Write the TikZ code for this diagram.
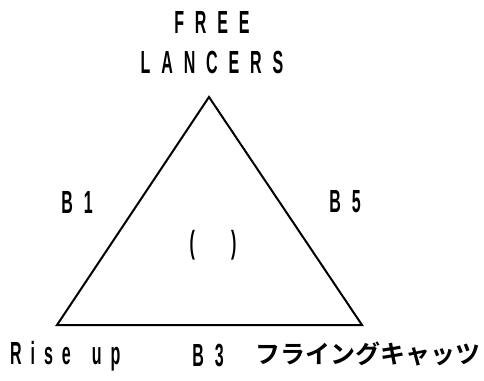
\documentclass[tikz,border=0pt]{standalone}
\usepackage{fontspec}
\setmainfont{Liberation Sans}
\newfontfamily\lbl[FakeStretch=0.5,LetterSpace=34]{Liberation Sans Bold}
\newfontfamily\lblb[FakeStretch=0.5,LetterSpace=28]{Liberation Sans Bold}
\newfontfamily\jpfont{Noto Sans CJK JP Bold}
\begin{document}
\begin{tikzpicture}[x=1pt,y=-1pt,
  lab/.style={inner sep=0pt,font=\fontsize{32}{32}\lbl},
  labb/.style={inner sep=0pt,font=\fontsize{32}{32}\lblb},
  edge/.style={line width=2pt,line join=miter}]
\useasboundingbox (0,0) rectangle (484,380);
\coordinate (A) at (209,97);
\coordinate (B) at (57,325);
\coordinate (C) at (362,325);
\draw[edge] (A) -- (B) -- (C) -- cycle;
\node[lab] (free) at (212,22) {FREE};
\node[lab] (lancers) at (212,62) {LANCERS};
\node[lab] (b1) at (77,202) {B1};
\node[lab] (b5) at (345,202) {B5};
\node[lab] (paren) at (213,245) {(\hspace{36pt})};
\node[labb,anchor=west] (rise) at (10,356) {Rise\hspace{21pt}up};
\node[lab] (b3) at (208,356) {B3};
\node[inner sep=0pt,anchor=east,font=\fontsize{25}{25}\jpfont] (jp) at (481,354) {フライングキャッツ};
\end{tikzpicture}
\end{document}
